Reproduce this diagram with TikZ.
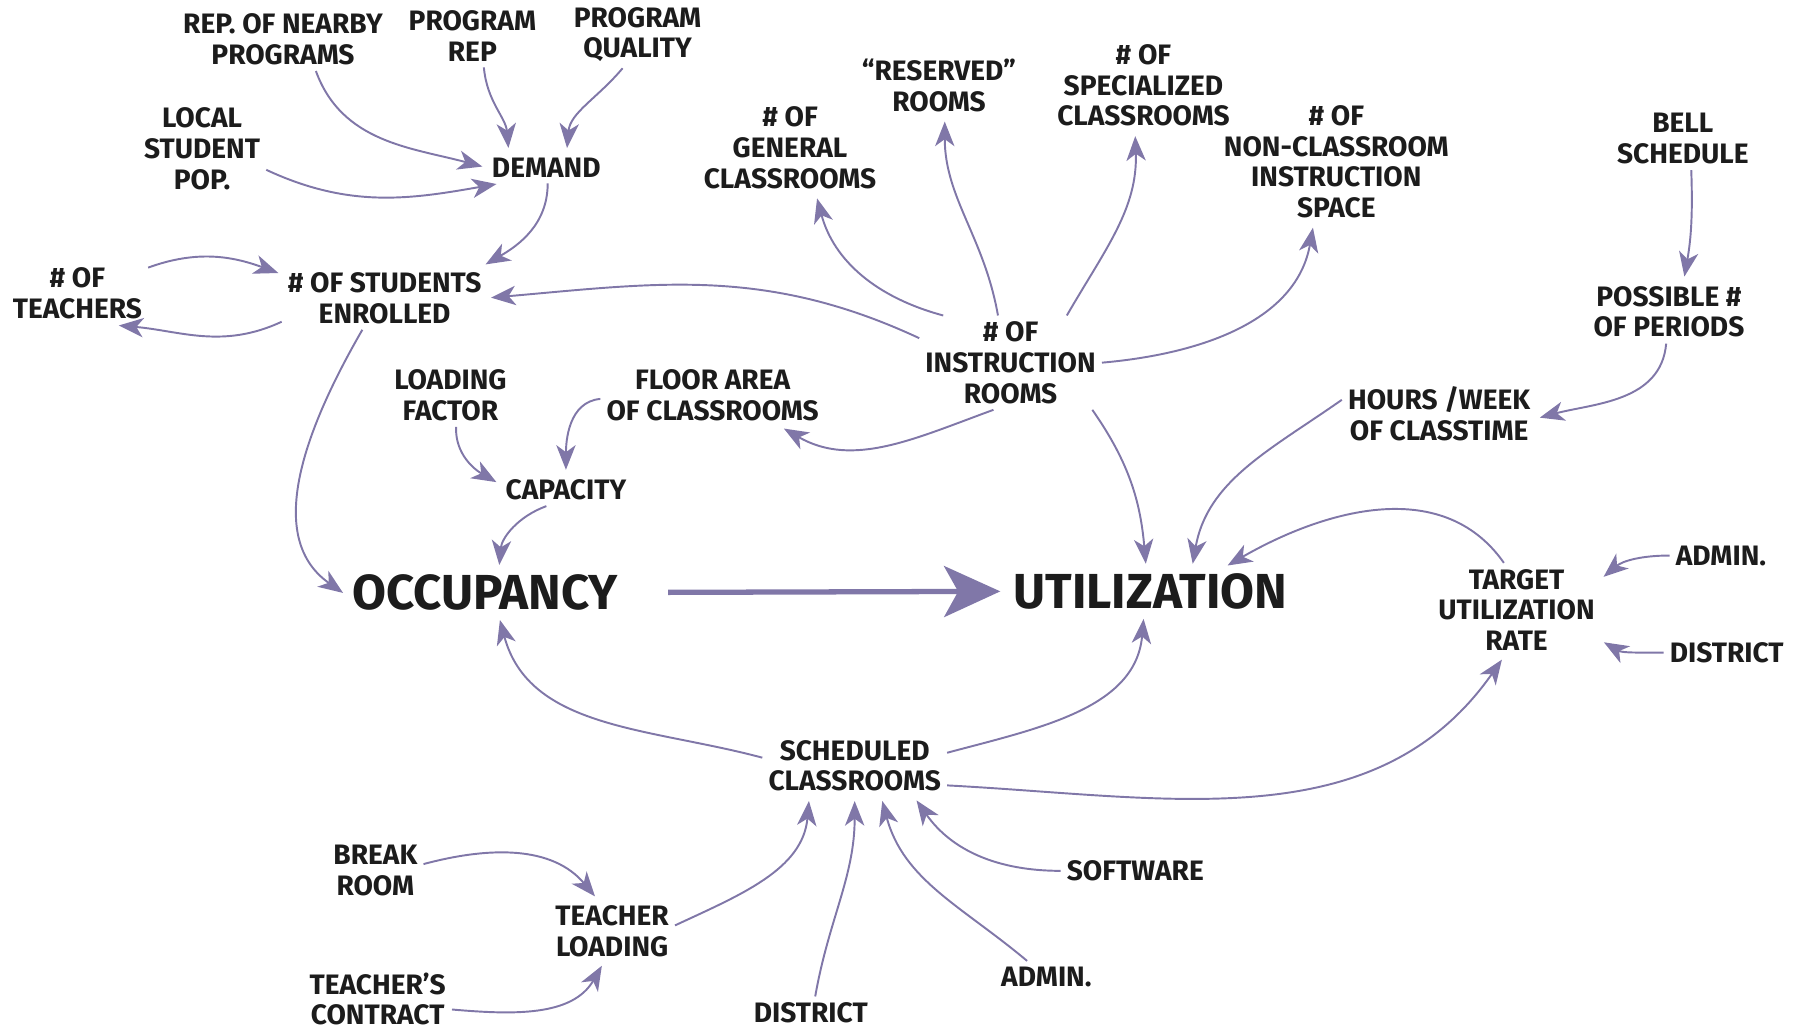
\documentclass[tikz,border=0pt]{standalone}
\usepackage{fontspec}
\setmainfont{Fira Sans}
\usetikzlibrary{arrows.meta}
\definecolor{arrowc}{RGB}{128,119,168}
\definecolor{inkc}{RGB}{28,28,28}

\begin{document}
\begin{tikzpicture}[x=0.0231cm, y=0.0231cm,
    lbl/.style={text=inkc, align=center, font=\bfseries\fontsize{16}{17.5}\selectfont},
    big/.style={text=inkc, align=center, font=\bfseries\fontsize{28}{30}\selectfont},
    arr/.style={draw=arrowc, line width=1.1pt, -{Stealth[length=14pt, width=11pt, inset=4pt]}, shorten >=2pt},
    fat/.style={draw=arrowc, line width=3pt, -{Stealth[length=32pt, width=29pt, inset=8pt]}, shorten <=25pt, shorten >=4pt}]
    \useasboundingbox (0,0) rectangle (1568,-892);

    \node[lbl] at (245,-34) (rep) {REP. OF NEARBY\\PROGRAMS};
    \node[lbl] at (409,-31) (prep) {PROGRAM\\REP};
    \node[lbl] at (552,-30) (qual) {PROGRAM\\QUALITY};
    \node[lbl] at (175,-129) (local) {LOCAL\\STUDENT\\POP.};
    \node[lbl] at (473,-145) (demand) {DEMAND};
    \draw[arr] (rep.-44) to[out=-70, in=165] (demand.180);
    \draw[arr] (prep.-70) to[out=-85, in=95] (demand.157);
    \draw[arr] (qual.-114) to[out=-130, in=85] (demand.38);
    \draw[arr] (local.-18) to[out=-25, in=190] (demand.199);

    \node[lbl] at (67,-254) (teachers) {\# OF\\TEACHERS};
    \node[lbl] at (333,-258) (students) {\# OF STUDENTS\\ENROLLED};
    \draw[arr] (demand.-85) to[out=-90, in=30] (students.18);
    \draw[arr] (teachers.20) to[out=20, in=160] (students.167);
    \draw[arr] (students.193) to[out=205, in=-5] (teachers.-40);

    \node[lbl] at (390,-342) (loadf) {LOADING\\FACTOR};
    \node[lbl] at (617,-342) (floor) {FLOOR AREA\\OF CLASSROOMS};
    \node[lbl] at (490,-424) (capacity) {CAPACITY};
    \node[big] at (420,-513) (occ) {OCCUPANCY};
    \node[big] at (996,-512) (util) {UTILIZATION};
    \draw[arr] (students.-125) to[out=-120, in=145] (occ.181);
    \draw[arr] (loadf.-80) to[out=-92, in=150] (capacity.175);
    \draw[arr] (floor.182) to[out=185, in=90] (capacity.90);
    \draw[arr] (capacity.-140) to[out=200, in=85] (occ.60);
    \draw[fat] (occ.east) -- (util.west);

    \node[lbl] at (684,-128) (general) {\# OF\\GENERAL\\CLASSROOMS};
    \node[lbl] at (813,-74) (reserved) {“RESERVED”\\ROOMS};
    \node[lbl] at (990,-74) (special) {\# OF\\SPECIALIZED\\CLASSROOMS};
    \node[lbl] at (1157,-140) (noncls) {\# OF\\NON-CLASSROOM\\INSTRUCTION\\SPACE};
    \node[lbl] at (875,-314) (instr) {\# OF\\INSTRUCTION\\ROOMS};
    \draw[arr] (instr.165) to[out=155, in=5] (students.0);
    \draw[arr] (instr.-110) to[out=200, in=-30] (floor.-25);
    \draw[arr] (instr.145) to[out=165, in=-75] (general.-61);
    \draw[arr] (instr.105) to[out=100, in=-90] (reserved.-80);
    \draw[arr] (instr.40) to[out=60, in=-88] (special.-100);
    \draw[arr] (instr.0) to[out=5, in=-100] (noncls.-110);
    \draw[arr] (instr.-30) to[out=-55, in=95] (util.100);

    \node[lbl] at (1457,-120) (bell) {BELL\\SCHEDULE};
    \node[lbl] at (1445,-270) (possible) {POSSIBLE \#\\OF PERIODS};
    \node[lbl] at (1246,-358) (hours) {HOURS /WEEK\\OF CLASSTIME};
    \node[lbl] at (1313,-528) (target) {TARGET\\UTILIZATION\\RATE};
    \node[lbl] at (1490,-481) (admin1) {ADMIN.};
    \node[lbl] at (1495,-565) (district1) {DISTRICT};
    \draw[arr] (bell.-75) to[out=-88, in=80] (possible.65);
    \draw[arr] (possible.-95) to[out=-95, in=15] (hours.-3);
    \draw[arr] (hours.172) to[out=215, in=80] (util.30);
    \draw[arr] (target.105) to[out=125, in=30] (util.18);
    \draw[arr] (admin1.180) to[out=180, in=40] (target.20);
    \draw[arr] (district1.180) to[out=180, in=-30] (target.-20);

    \node[lbl] at (740,-663) (sched) {SCHEDULED\\CLASSROOMS};
    \draw[arr] (sched.175) to[out=165, in=-75] (occ.-60);
    \draw[arr] (sched.8) to[out=15, in=-95] (util.-105);
    \draw[arr] (sched.-12) to[out=-3, in=-125] (target.-105);

    \node[lbl] at (325,-754) (breakr) {BREAK\\ROOM};
    \node[lbl] at (530,-806) (tload) {TEACHER\\LOADING};
    \node[lbl] at (327,-865) (contract) {TEACHER’S\\CONTRACT};
    \node[lbl] at (702,-877) (district2) {DISTRICT};
    \node[lbl] at (906,-846) (admin2) {ADMIN.};
    \node[lbl] at (983,-754) (software) {SOFTWARE};
    \draw[arr] (breakr.8) to[out=15, in=130] (tload.115);
    \draw[arr] (contract.-8) to[out=-5, in=-120] (tload.-105);
    \draw[arr] (tload.5) to[out=25, in=-95] (sched.-145);
    \draw[arr] (district2.75) to[out=80, in=-90] (sched.-90);
    \draw[arr] (admin2.140) to[out=140, in=-75] (sched.-50);
    \draw[arr] (software.180) to[out=180, in=-55] (sched.-28);
\end{tikzpicture}
\end{document}
